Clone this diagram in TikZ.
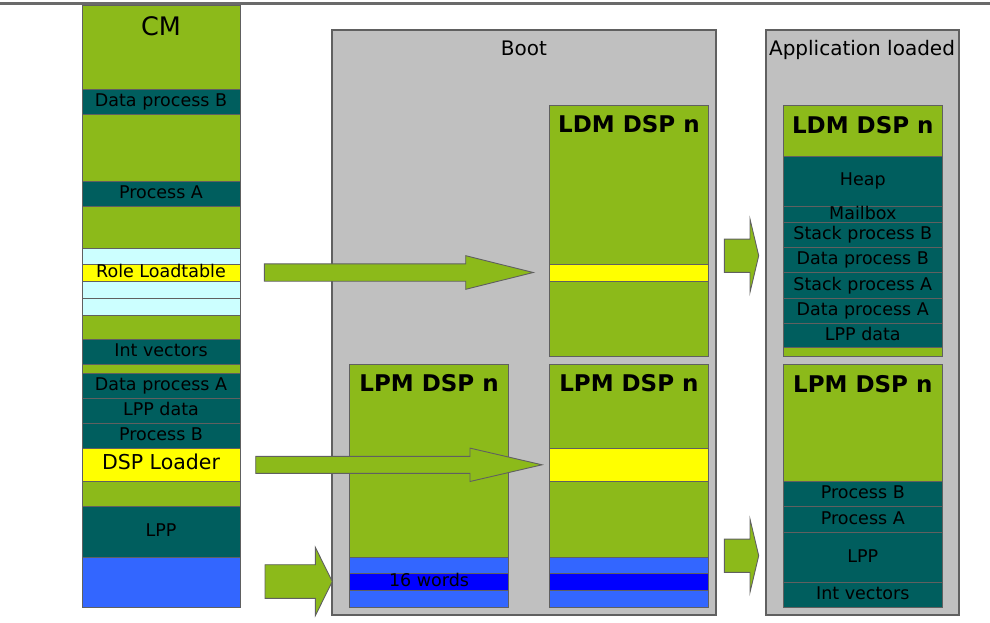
\documentclass[tikz,border=0pt]{standalone}
\usepackage{fontspec}
\setmainfont{DejaVu Sans}
\definecolor{lgreen}{HTML}{8CBA1A}
\definecolor{tealb}{HTML}{005E5E}
\definecolor{lcyan}{HTML}{CCFFFF}
\definecolor{mblue}{HTML}{3366FF}
\definecolor{dblue}{HTML}{0000FF}
\definecolor{yel}{HTML}{FFFF00}
\definecolor{boxgray}{HTML}{C0C0C0}
\definecolor{edge}{HTML}{606060}
\definecolor{rulegray}{HTML}{6A6A6A}
\tikzset{
  band/.style={draw=edge, line width=0.9pt, inner sep=0pt, outer sep=0pt,
    font=\fontsize{17.5}{20}\selectfont, text height=0.94em, text depth=0pt},
  panel/.style={draw=edge, line width=1.2pt, inner sep=0pt, outer sep=0pt},
  titletext/.style={anchor=base, inner sep=0pt, font=\fontsize{20}{24}\selectfont},
  dsptitle/.style={anchor=base, inner sep=0pt, font=\bfseries\fontsize{23}{27}\selectfont},
  blockarrow/.style={draw=edge, line width=0.9pt, fill=lgreen, line join=miter},
}
% \band[style]{name}{x1}{y1}{x2}{y2}{fill}{text}
\newcommand\band[8][band]{%
  \node[#1, fill=#7, minimum width={#5pt-#3pt}, minimum height={#6pt-#4pt}]
    (#2) at ({(#3+#5)/2},{(#4+#6)/2}) {#8};}
% \blockarr{name}{tailx}{cy}{shafthalf}{basex}{headhalf}{tipx}
\newcommand\blockarr[7]{%
  \coordinate (#1-tail) at (#2,#3);
  \coordinate (#1-tip) at (#7,#3);
  \draw[blockarrow] (#2,#3-#4) -- (#5,#3-#4) -- (#5,#3-#6)
    -- (#1-tip) -- (#5,#3+#6) -- (#5,#3+#4) -- (#2,#3+#4) -- cycle;}
\begin{document}
\begin{tikzpicture}[x=1pt,y=-1pt]
\useasboundingbox (0,0) rectangle (990,623);
% top rule
\coordinate (ruleL) at (0,3.5);
\coordinate (ruleR) at (990,3.5);
\draw[line width=3pt, rulegray] (ruleL) -- (ruleR);

% panels
\band[panel]{boot}{332}{30}{716}{615}{boxgray}{}
\band[panel]{app}{766}{30}{959}{615}{boxgray}{}
\node[titletext] (boottitle) at (524,55.3) {Boot};
\node[titletext] (apptitle) at (862,55.3) {Application loaded};

% CM column
\band{cm0}{82}{5}{240}{89}{lgreen}{}
\band{cm1}{82}{89}{240}{114.7}{tealb}{Data process B}
\band{cm2}{82}{114.7}{240}{181.7}{lgreen}{}
\band{cm3}{82}{181.7}{240}{206.7}{tealb}{Process A}
\band{cm4}{82}{206.7}{240}{248.3}{lgreen}{}
\band{cm5}{82}{248.3}{240}{264.3}{lcyan}{}
\band{cm6}{82}{264.3}{240}{281.3}{yel}{Role Loadtable}
\band{cm7}{82}{281.3}{240}{298.3}{lcyan}{}
\band{cm8}{82}{298.3}{240}{315.3}{lcyan}{}
\band{cm9}{82}{315.3}{240}{339.3}{lgreen}{}
\band{cm10}{82}{339.3}{240}{364.3}{tealb}{Int vectors}
\band{cm11}{82}{364.3}{240}{373.3}{lgreen}{}
\band{cm12}{82}{373.3}{240}{398.3}{tealb}{Data process A}
\band{cm13}{82}{398.3}{240}{423.3}{tealb}{LPP data}
\band{cm14}{82}{423.3}{240}{448.7}{tealb}{Process B}
\band{cm15}{82}{448.7}{240}{481.3}{yel}{\fontsize{20.5}{24}\selectfont DSP Loader}
\band{cm16}{82}{481.3}{240}{506.7}{lgreen}{}
\band{cm17}{82}{506.7}{240}{557.3}{tealb}{LPP}
\band{cm18}{82}{557.3}{240}{607.3}{mblue}{}
\node[anchor=base, inner sep=0pt, font=\fontsize{25.5}{30}\selectfont] (cmtitle) at (161,35.7) {CM};

% Boot: LDM DSP n
\band{bl0}{549.3}{105.3}{708.5}{264.3}{lgreen}{}
\band{bl1}{549.3}{264.3}{708.5}{281.3}{yel}{}
\band{bl2}{549.3}{281.3}{708.5}{356}{lgreen}{}
\node[dsptitle] (bltitle) at (628.9,132.7) {LDM DSP n};

% Boot: LPM DSP n (left)
\band{blp0}{349.3}{364.3}{508.7}{557.3}{lgreen}{}
\band{blp1}{349.3}{557.3}{508.7}{573.7}{mblue}{}
\band{blp2}{349.3}{573.7}{508.7}{590}{dblue}{16 words}
\band{blp3}{349.3}{590}{508.7}{607.3}{mblue}{}
\node[dsptitle] (blptitle) at (429,391.7) {LPM DSP n};

% Boot: LPM DSP n (right)
\band{br0}{549.3}{364.3}{708.5}{448.3}{lgreen}{}
\band{br1}{549.3}{448.3}{708.5}{481.3}{yel}{}
\band{br2}{549.3}{481.3}{708.5}{557.3}{lgreen}{}
\band{br3}{549.3}{557.3}{708.5}{573.7}{mblue}{}
\band{br4}{549.3}{573.7}{708.5}{590}{dblue}{}
\band{br5}{549.3}{590}{708.5}{607.3}{mblue}{}
\node[dsptitle] (brtitle) at (628.9,391.7) {LPM DSP n};

% Application: LDM DSP n
\band{al0}{783.3}{105.7}{942.3}{156}{lgreen}{}
\band{al1}{783.3}{156}{942.3}{206.3}{tealb}{Heap}
\band{al2}{783.3}{206.3}{942.3}{222.3}{tealb}{Mailbox}
\band{al3}{783.3}{222.3}{942.3}{247.7}{tealb}{Stack process B}
\band{al4}{783.3}{247.7}{942.3}{272.7}{tealb}{Data process B}
\band{al5}{783.3}{272.7}{942.3}{298.3}{tealb}{Stack process A}
\band{al6}{783.3}{298.3}{942.3}{323.7}{tealb}{Data process A}
\band{al7}{783.3}{323.7}{942.3}{348.3}{tealb}{LPP data}
\band{al8}{783.3}{348.3}{942.3}{356}{lgreen}{}
\node[dsptitle] (altitle) at (862.8,133.3) {LDM DSP n};

% Application: LPM DSP n
\band{ap0}{783.3}{364.3}{942.3}{481.3}{lgreen}{}
\band{ap1}{783.3}{481.3}{942.3}{506.3}{tealb}{Process B}
\band{ap2}{783.3}{506.3}{942.3}{532.3}{tealb}{Process A}
\band{ap3}{783.3}{532.3}{942.3}{582.3}{tealb}{LPP}
\band{ap4}{783.3}{582.3}{942.3}{607.3}{tealb}{Int vectors}
\node[dsptitle] (aptitle) at (862.8,392.3) {LPM DSP n};

% block arrows
\blockarr{arrA}{264.3}{272.5}{8.7}{465.7}{16.8}{533.3}
\blockarr{arrB}{255.7}{464.8}{8.5}{470}{16.7}{542}
\blockarr{arrC}{265}{581.5}{16.8}{315.3}{34.2}{332.3}
\blockarr{arrD}{724.3}{255.7}{16.6}{750}{36.6}{758.7}
\blockarr{arrE}{724.3}{555.7}{16.6}{750}{36.6}{758.7}
\end{tikzpicture}
\end{document}
